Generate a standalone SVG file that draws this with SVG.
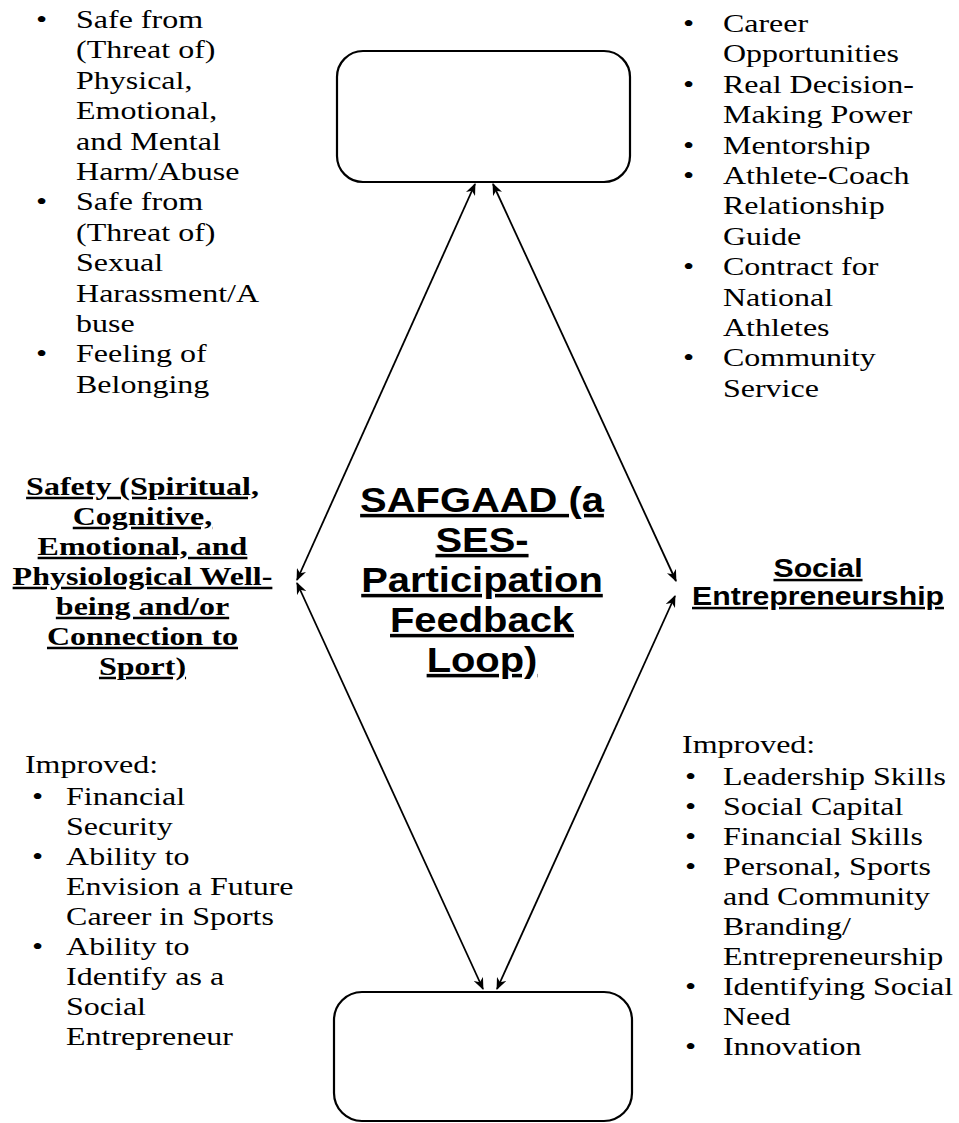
<svg xmlns="http://www.w3.org/2000/svg" width="959" height="1123" viewBox="0 0 959 1123">
  <style>
    .serif { font-family: "Liberation Serif", "Times New Roman", serif; font-size: 25px; fill: #000; }
    .serif-b { font-family: "Liberation Serif", "Times New Roman", serif; font-size: 25px; font-weight: bold; fill: #000; text-decoration: underline; text-decoration-skip-ink: none; }
    .sans-b { font-family: "Liberation Sans", Arial, sans-serif; font-weight: bold; fill: #000; text-decoration: underline; text-decoration-skip-ink: none; }
    .box { fill: #fff; stroke: #000; stroke-width: 2.2; }
    .link { stroke: #000; stroke-width: 1.8; fill: none; marker-start: url(#head); marker-end: url(#head); }
  </style>
  <defs>
    <marker id="head" viewBox="0 0 12 10" refX="11" refY="5" markerWidth="12" markerHeight="10" markerUnits="userSpaceOnUse" orient="auto-start-reverse">
      <path d="M0,0 L12,5 L0,10 L3.5,5 z" fill="#000"/>
    </marker>
  </defs>
  <rect width="959" height="1123" fill="#fff"/>

  <!-- connectors: four double-headed links forming the loop -->
  <g id="connectors">
    <line class="link" x1="475" y1="184" x2="297" y2="580"/>
    <line class="link" x1="297" y1="583" x2="483" y2="989"/>
    <line class="link" x1="493" y1="184" x2="676" y2="581"/>
    <line class="link" x1="675" y1="596" x2="497" y2="989"/>
  </g>

  <!-- top (empty) node -->
  <g id="node-top">
    <rect class="box" x="337" y="51" width="293" height="131" rx="26" ry="26"/>
  </g>

  <!-- bottom (empty) node -->
  <g id="node-bottom">
    <rect class="box" x="334" y="992" width="298" height="129" rx="28" ry="28"/>
  </g>

  <!-- central label -->
  <g id="node-center" class="sans-b" font-size="35" text-anchor="middle">
    <text transform="translate(482,512) scale(1.14,1)">SAFGAAD (a</text>
    <text transform="translate(482,552) scale(1.14,1)">SES-</text>
    <text transform="translate(482,592) scale(1.14,1)">Participation</text>
    <text transform="translate(482,632) scale(1.14,1)">Feedback</text>
    <text transform="translate(482,672) scale(1.14,1)">Loop)</text>
  </g>

  <!-- left node: Safety -->
  <g id="node-safety" class="serif-b" text-anchor="middle">
    <text transform="translate(142.5,495) scale(1.28,1)">Safety (Spiritual,</text>
    <text transform="translate(142.5,525) scale(1.28,1)">Cognitive,</text>
    <text transform="translate(142.5,555) scale(1.28,1)">Emotional, and</text>
    <text transform="translate(142.5,585) scale(1.28,1)">Physiological Well-</text>
    <text transform="translate(142.5,615) scale(1.28,1)">being and/or</text>
    <text transform="translate(142.5,645) scale(1.28,1)">Connection to</text>
    <text transform="translate(142.5,675) scale(1.28,1)">Sport)</text>
  </g>

  <!-- right node: Social Entrepreneurship -->
  <g id="node-social" class="sans-b" font-size="25" text-anchor="middle">
    <text transform="translate(818,577) scale(1.21,1)">Social</text>
    <text transform="translate(818,605) scale(1.21,1)">Entrepreneurship</text>
  </g>

  <!-- top-left list -->
  <g id="list-top-left" class="serif" transform="scale(1.28,1)">
    <text x="28.1" y="28">•</text><text x="59.4" y="28">Safe from</text>
    <text x="59.4" y="58.4">(Threat of)</text>
    <text x="59.4" y="88.8">Physical,</text>
    <text x="59.4" y="119.2">Emotional,</text>
    <text x="59.4" y="149.6">and Mental</text>
    <text x="59.4" y="180">Harm/Abuse</text>
    <text x="28.1" y="210.4">•</text><text x="59.4" y="210.4">Safe from</text>
    <text x="59.4" y="240.8">(Threat of)</text>
    <text x="59.4" y="271.2">Sexual</text>
    <text x="59.4" y="301.6">Harassment/A</text>
    <text x="59.4" y="332">buse</text>
    <text x="28.1" y="362.4">•</text><text x="59.4" y="362.4">Feeling of</text>
    <text x="59.4" y="392.8">Belonging</text>
  </g>

  <!-- top-right list -->
  <g id="list-top-right" class="serif" transform="scale(1.28,1)">
    <text x="533.6" y="32">•</text><text x="564.8" y="32">Career</text>
    <text x="564.8" y="62.4">Opportunities</text>
    <text x="533.6" y="92.8">•</text><text x="564.8" y="92.8">Real Decision-</text>
    <text x="564.8" y="123.2">Making Power</text>
    <text x="533.6" y="153.6">•</text><text x="564.8" y="153.6">Mentorship</text>
    <text x="533.6" y="184">•</text><text x="564.8" y="184">Athlete-Coach</text>
    <text x="564.8" y="214.4">Relationship</text>
    <text x="564.8" y="244.8">Guide</text>
    <text x="533.6" y="275.2">•</text><text x="564.8" y="275.2">Contract for</text>
    <text x="564.8" y="305.6">National</text>
    <text x="564.8" y="336">Athletes</text>
    <text x="533.6" y="366.4">•</text><text x="564.8" y="366.4">Community</text>
    <text x="564.8" y="396.8">Service</text>
  </g>

  <!-- bottom-left list -->
  <g id="list-bottom-left" class="serif" transform="scale(1.28,1)">
    <text x="19.5" y="773">Improved:</text>
    <text x="25" y="805">•</text><text x="51.6" y="805">Financial</text>
    <text x="51.6" y="835">Security</text>
    <text x="25" y="865">•</text><text x="51.6" y="865">Ability to</text>
    <text x="51.6" y="895">Envision a Future</text>
    <text x="51.6" y="925">Career in Sports</text>
    <text x="25" y="955">•</text><text x="51.6" y="955">Ability to</text>
    <text x="51.6" y="985">Identify as a</text>
    <text x="51.6" y="1015">Social</text>
    <text x="51.6" y="1045">Entrepreneur</text>
  </g>

  <!-- bottom-right list -->
  <g id="list-bottom-right" class="serif" transform="scale(1.28,1)">
    <text x="532.8" y="753">Improved:</text>
    <text x="535.2" y="785">•</text><text x="564.8" y="785">Leadership Skills</text>
    <text x="535.2" y="815">•</text><text x="564.8" y="815">Social Capital</text>
    <text x="535.2" y="845">•</text><text x="564.8" y="845">Financial Skills</text>
    <text x="535.2" y="875">•</text><text x="564.8" y="875">Personal, Sports</text>
    <text x="564.8" y="905">and Community</text>
    <text x="564.8" y="935">Branding/</text>
    <text x="564.8" y="965">Entrepreneurship</text>
    <text x="535.2" y="995">•</text><text x="564.8" y="995">Identifying Social</text>
    <text x="564.8" y="1025">Need</text>
    <text x="535.2" y="1055">•</text><text x="564.8" y="1055">Innovation</text>
  </g>
</svg>
